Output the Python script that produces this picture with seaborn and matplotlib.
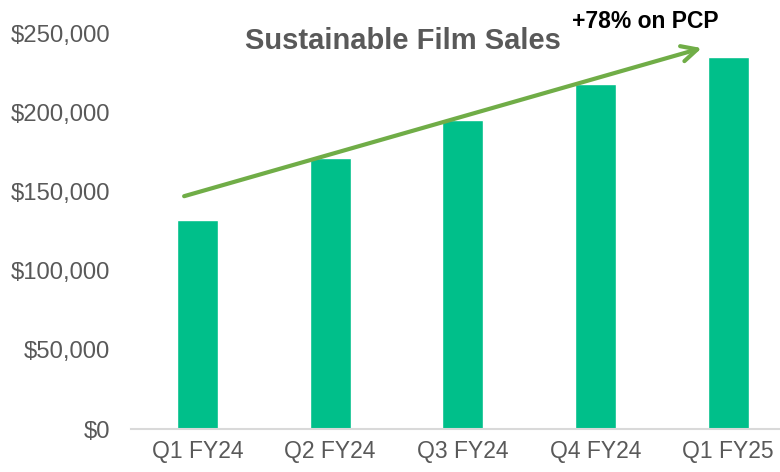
"""Sustainable Film Sales - gráfico de barras por trimestre."""
import matplotlib
matplotlib.use("Agg")
import matplotlib.pyplot as plt
from matplotlib.ticker import FuncFormatter
import pandas as pd
import seaborn as sns

# Dados
quarters = ["Q1 FY24", "Q2 FY24", "Q3 FY24", "Q4 FY24", "Q1 FY25"]
sales = [132000, 171000, 195000, 218000, 235000]
y_ticks = [0, 50000, 100000, 150000, 200000, 250000]
title = "Sustainable Film Sales"
growth_label = "+78% on PCP"
# seta de tendência (índice da categoria, valor)
arrow_start = (-0.1, 147000)
arrow_end = (3.8, 240500)

bar_color = "#00BF8A"
arrow_color = "#70AD47"
text_gray = "#595959"

sns.set_style("white")
plt.rcParams["font.family"] = ["Liberation Sans", "DejaVu Sans"]

df = pd.DataFrame({"quarter": quarters, "sales": sales})

fig = plt.figure(figsize=(7.8, 4.72), dpi=100)
ax = fig.add_axes([0.168, 0.091, 0.832, 0.839])

sns.barplot(data=df, x="quarter", y="sales", color=bar_color, width=0.31,
            saturation=1, ax=ax)

ax.set_ylim(0, 250000)
ax.set_xlim(-0.5, 4.39)
ax.set_yticks(y_ticks)
ax.yaxis.set_major_formatter(FuncFormatter(lambda v, _: f"${v:,.0f}"))
ax.set_xlabel("")
ax.set_ylabel("")
ax.tick_params(axis="y", length=0, pad=15, labelsize=17.2, labelcolor=text_gray)
ax.tick_params(axis="x", length=0, pad=8, labelsize=16.5, labelcolor=text_gray)

for side in ["top", "right", "left"]:
    ax.spines[side].set_visible(False)
ax.spines["bottom"].set_color("#D9D9D9")
ax.spines["bottom"].set_linewidth(1.5)

ax.annotate("", xy=arrow_end, xytext=arrow_start,
            arrowprops=dict(arrowstyle="->", color=arrow_color, lw=3,
                            mutation_scale=28, shrinkA=0, shrinkB=0))

fig.text(403 / 780, 1 - 41 / 472, title, ha="center", va="center",
         fontsize=21, fontweight="bold", color=text_gray)
fig.text(645 / 780, 1 - 22 / 472, growth_label, ha="center", va="center",
         fontsize=16.5, fontweight="bold", color="black")

fig.savefig("out.png", dpi=100)
